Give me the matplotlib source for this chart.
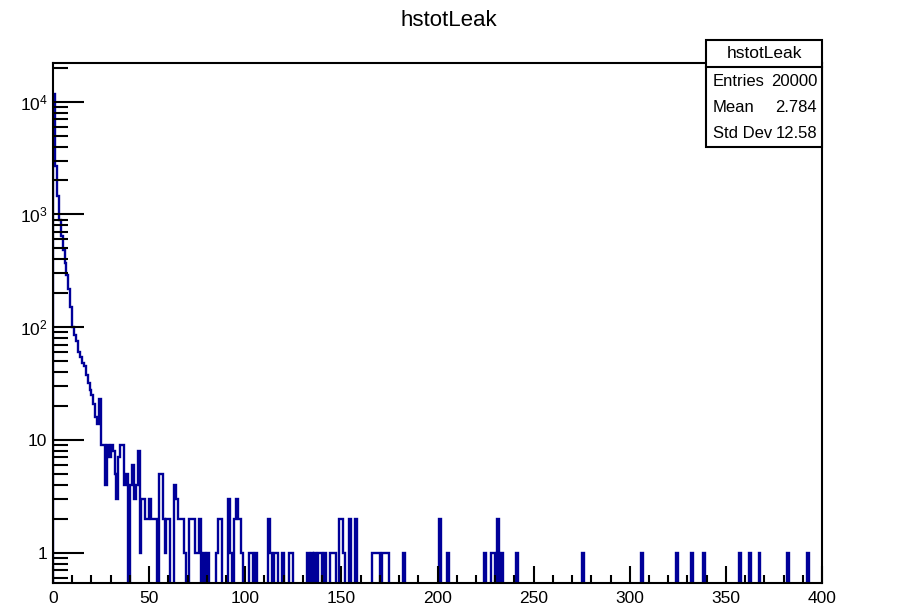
import matplotlib
matplotlib.use("Agg")
import matplotlib.pyplot as plt
import numpy as np
from matplotlib.patches import Rectangle
from matplotlib.lines import Line2D
from matplotlib.ticker import FixedLocator, NullFormatter

plt.rcParams['font.family'] = ['Liberation Sans', 'DejaVu Sans']
plt.rcParams['mathtext.fontset'] = 'custom'
plt.rcParams['mathtext.rm'] = 'Liberation Sans'

# histogram: 400 bins of width 1 from 0 to 400
n_bins = 400
x_low, x_high = 0, 400

# contents of the first bins (0..56)
low_counts = [11800, 2700, 1470, 900, 650, 480, 370, 290, 220, 150,
              100, 85, 75, 60, 55, 48, 45, 38, 32, 28,
              25, 21, 16, 14, 23, 9, 9, 4, 9, 7,
              9, 8, 5, 3, 7, 9, 9, 4, 5, 0,
              4, 6, 3, 4, 8, 1, 3, 3, 2, 2,
              3, 2, 2, 2, 0, 5, 5]

# sparse tail: bin index -> content
tail_bins = [57, 58, 59, 60, 63, 64, 65, 66, 67, 68, 71, 72, 73, 74, 75, 76, 78, 80,
             85, 86, 87, 91, 92, 94, 95, 96, 97, 98, 102, 103, 105, 112, 113, 115,
             116, 119, 123, 124, 132, 134, 136, 138, 139, 141, 144, 145, 146, 149,
             150, 151, 154, 157, 166, 167, 168, 169, 171, 172, 173, 174, 182, 201,
             205, 224, 228, 229, 231, 233, 241, 275, 306, 324, 332, 338, 357, 362,
             367, 382, 392]
tail_counts = [2, 1, 2, 2, 4, 3, 2, 2, 2, 1, 2, 2, 2, 1, 1, 2, 1, 1,
               1, 2, 2, 3, 1, 2, 3, 2, 2, 1, 1, 1, 1, 2, 1, 1,
               1, 1, 1, 1, 1, 1, 1, 1, 1, 1, 1, 1, 1, 2,
               2, 1, 2, 2, 1, 1, 1, 1, 1, 1, 1, 1, 1, 2,
               1, 1, 1, 1, 2, 1, 1, 1, 1, 1, 1, 1, 1, 1,
               1, 1, 1]

stats_labels = ["Entries", "Mean", "Std Dev"]
stats_values = ["20000", "2.784", "12.58"]
hist_name = "hstotLeak"

counts = np.zeros(n_bins)
counts[:len(low_counts)] = low_counts
counts[tail_bins] = tail_counts
edges = np.linspace(x_low, x_high, n_bins + 1)

W, H = 898, 614
fig = plt.figure(figsize=(W / 100, H / 100), dpi=100)
ax = fig.add_axes([53 / W, 1 - 583 / H, (822 - 53) / W, (583 - 63) / H])

ymin, ymax = 0.54, 2.2e4
# empty bins drop to the bottom of the frame like ROOT does
shown = np.where(counts > 0, counts, 1e-3)
ax.stairs(shown, edges, baseline=1e-3, color='#000099', linewidth=1.7)

ax.set_yscale('log')
ax.set_xlim(x_low, x_high)
ax.set_ylim(ymin, ymax)

ax.xaxis.set_major_locator(FixedLocator(np.arange(0, 401, 50)))
ax.xaxis.set_minor_locator(FixedLocator(np.arange(0, 401, 10)))
ax.set_xticklabels([str(v) for v in range(0, 401, 50)])

ax.yaxis.set_major_locator(FixedLocator([1, 10, 100, 1000, 10000]))
ax.set_yticklabels(['1', '10', r'$\mathregular{10^{2}}$', r'$\mathregular{10^{3}}$',
                    r'$\mathregular{10^{4}}$'])
minors = [m * 10 ** d for d in range(-1, 5) for m in range(2, 10)]
ax.yaxis.set_minor_locator(FixedLocator(minors))
ax.yaxis.set_minor_formatter(NullFormatter())

ax.tick_params(axis='both', which='both', direction='in', top=False, right=False,
               labelsize=12.5, width=1.5, color='black')
ax.tick_params(axis='x', which='major', length=12, pad=6)
ax.tick_params(axis='x', which='minor', length=6)
ax.tick_params(axis='y', which='major', length=22, pad=4)
ax.tick_params(axis='y', which='minor', length=11)
for s in ax.spines.values():
    s.set_linewidth(1.5)

fig.text(449 / W, 1 - 20 / H, hist_name, ha='center', va='center', fontsize=16)

# stats box
def fx(px):
    return px / W

def fy(py):
    return 1 - py / H

box_l, box_r, box_t, box_b = 706, 822, 40, 147
fig.patches.append(Rectangle((fx(box_l), fy(box_b)), fx(box_r) - fx(box_l),
                             fy(box_t) - fy(box_b), transform=fig.transFigure,
                             facecolor='white', edgecolor='black', linewidth=1.5,
                             zorder=5))
fig.lines.append(Line2D([fx(box_l), fx(box_r)], [fy(67), fy(67)],
                        transform=fig.transFigure, color='black', linewidth=1.5,
                        zorder=6))
fig.text(fx(764), fy(54), hist_name, ha='center', va='center', fontsize=12.5, zorder=7)
for i, (lab, val) in enumerate(zip(stats_labels, stats_values)):
    yy = fy(81 + i * 26)
    fig.text(fx(713), yy, lab, ha='left', va='center', fontsize=12, zorder=7)
    fig.text(fx(817), yy, val, ha='right', va='center', fontsize=12, zorder=7)

fig.savefig('out.png', dpi=100)
